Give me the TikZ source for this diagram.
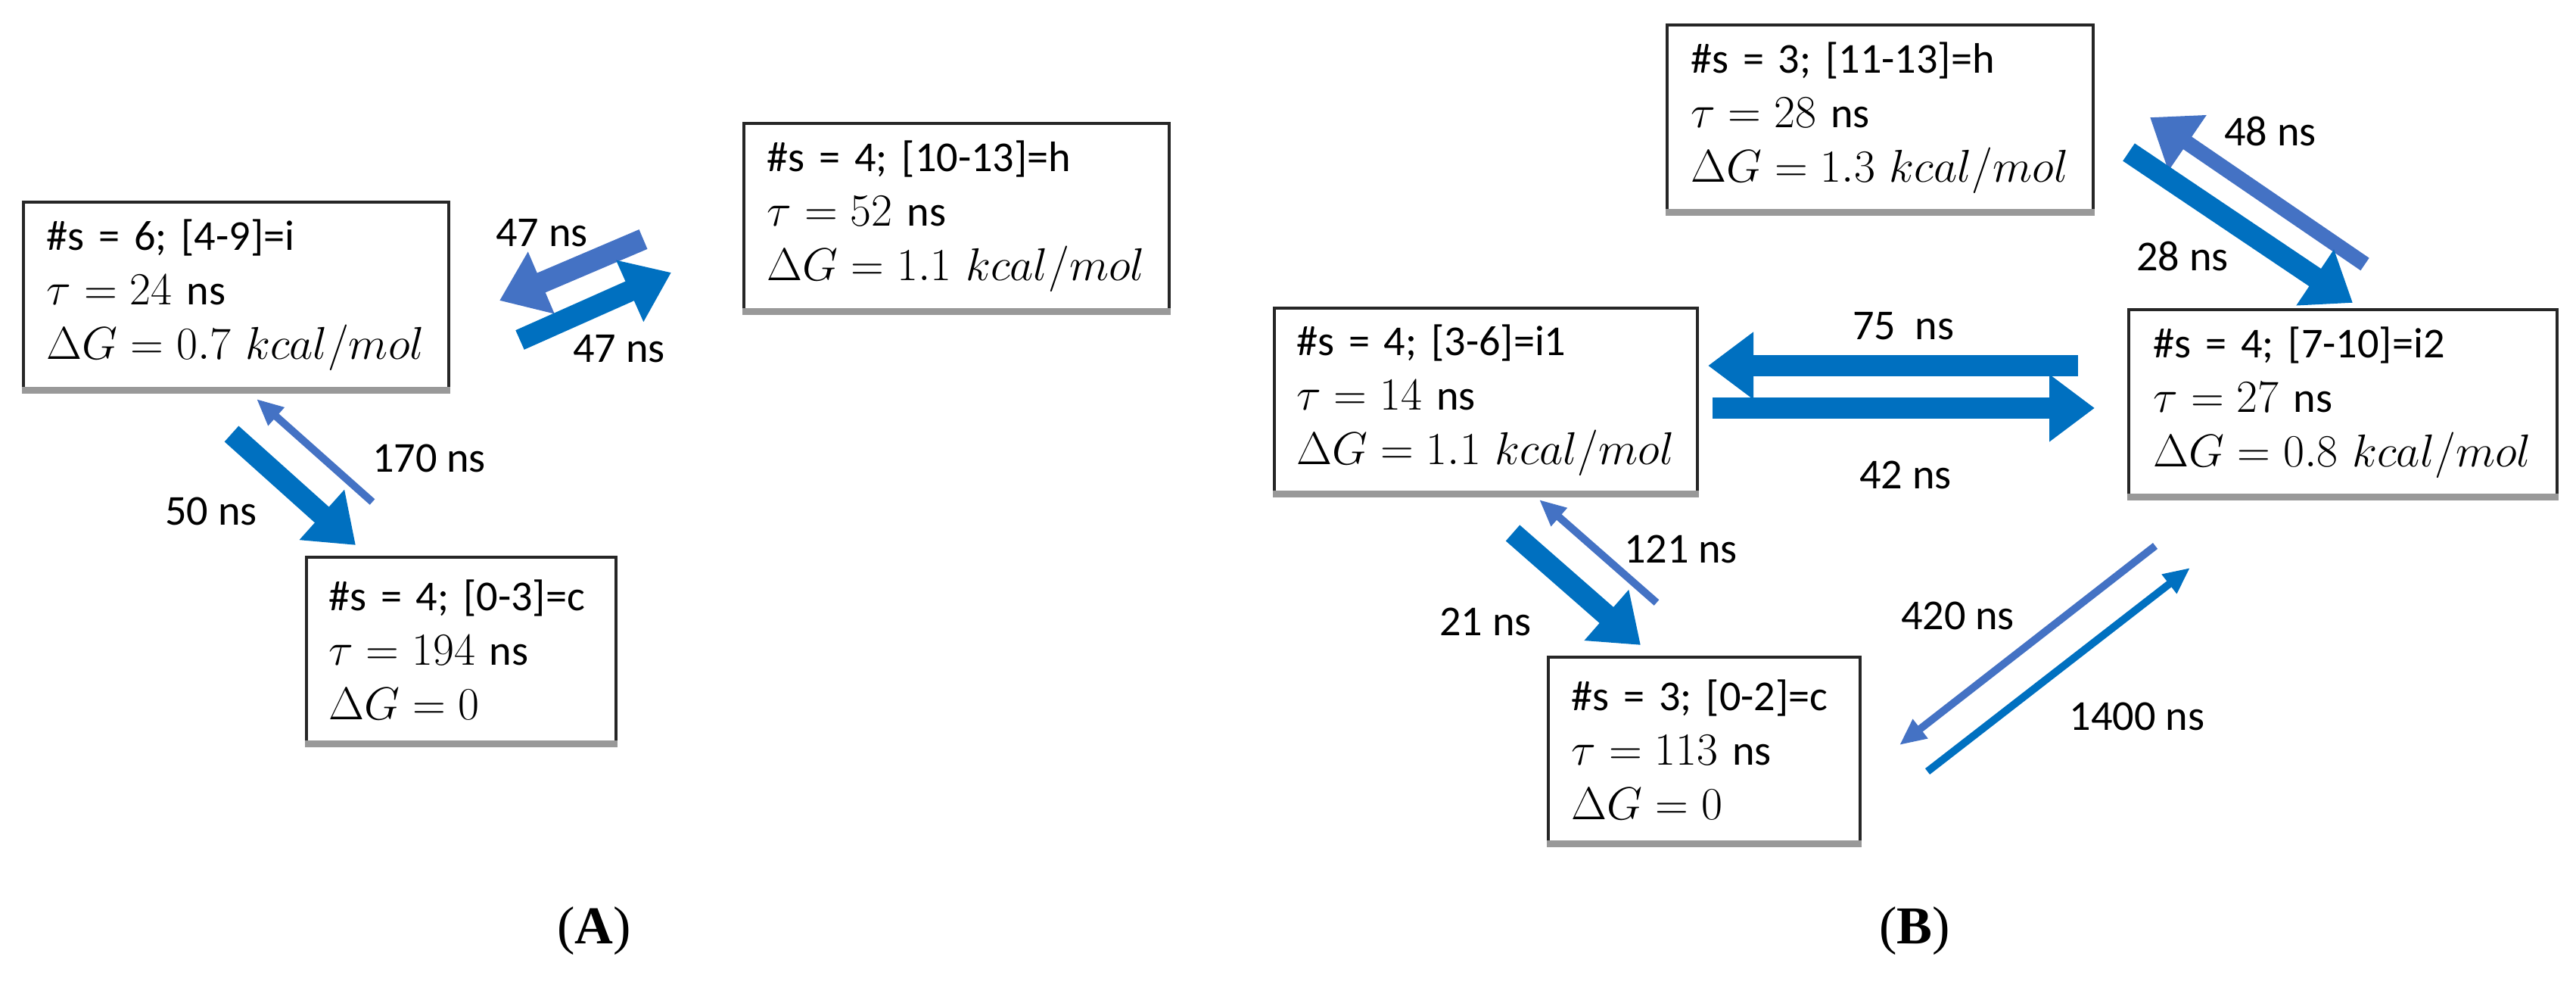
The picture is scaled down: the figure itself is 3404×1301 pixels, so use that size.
\documentclass[tikz,border=0pt]{standalone}
\usepackage{fontspec}
\setmainfont{Carlito}
\newfontfamily\capfont{Liberation Serif}
\usetikzlibrary{arrows.meta}
\definecolor{bA}{HTML}{0070C0}
\definecolor{bB}{HTML}{4472C4}
\begin{document}
\begin{tikzpicture}[x=0.01cm,y=-0.01cm,
  box/.style={draw=black!85, line width=1.2pt, fill=white, align=left, font=\fontsize{16}{20.5}\selectfont, inner sep=0pt},
  lab/.style={font=\fontsize{16}{18}\selectfont},
  fat/.style={bA, line width=0.28cm, -{Triangle[length=0.6cm,width=0.85cm]}},
  thin/.style={bB, line width=0.1cm, -{Triangle[length=0.35cm,width=0.3cm]}},
  shad/.style={gray!80, line width=2.5pt}]
\useasboundingbox (0,0) rectangle (3404,1301);
% boxes
\node[box, minimum width=5.62cm, minimum height=2.46cm, text width=5.0cm] (a1) at (312,390) {\#s = 6;\ [4-9]=i\\ $\tau = 24$ ns\\ $\Delta G = 0.7\ kcal/mol$};
\node[box, minimum width=5.62cm, minimum height=2.46cm, text width=5.0cm] (a2) at (1264,286) {\#s = 4;\ [10-13]=h\\ $\tau = 52$ ns\\ $\Delta G = 1.1\ kcal/mol$};
\node[box, minimum width=4.09cm, minimum height=2.44cm, text width=3.5cm] (a3) at (609.5,858) {\#s = 4;\ [0-3]=c\\ $\tau = 194$ ns\\ $\Delta G = 0$};
\node[box, minimum width=5.63cm, minimum height=2.45cm, text width=5.0cm] (b1) at (2484.5,155.5) {\#s = 3;\ [11-13]=h\\ $\tau = 28$ ns\\ $\Delta G = 1.3\ kcal/mol$};
\node[box, minimum width=5.59cm, minimum height=2.43cm, text width=5.0cm] (b2) at (1963.5,528.5) {\#s = 4;\ [3-6]=i1\\ $\tau = 14$ ns\\ $\Delta G = 1.1\ kcal/mol$};
\node[box, minimum width=5.66cm, minimum height=2.45cm, text width=5.0cm] (b3) at (3096,531.5) {\#s = 4;\ [7-10]=i2\\ $\tau = 27$ ns\\ $\Delta G = 0.8\ kcal/mol$};
\node[box, minimum width=4.12cm, minimum height=2.44cm, text width=3.5cm] (b4) at (2252,990) {\#s = 3;\ [0-2]=c\\ $\tau = 113$ ns\\ $\Delta G = 0$};
\foreach \n in {a1,a2,a3,b1,b2,b3,b4}{\draw[shad] (\n.south west) -- (\n.south east);}
% arrow end points
\coordinate (p1) at (850,316); \coordinate (q1) at (660,397);
\coordinate (p2) at (687,449); \coordinate (q2) at (887,360);
\coordinate (p3) at (492,663); \coordinate (q3) at (339,527);
\coordinate (p4) at (306,573); \coordinate (q4) at (470,720);
\coordinate (p5) at (3125,349); \coordinate (q5) at (2841,155);
\coordinate (p6) at (2813,201); \coordinate (q6) at (3109,400);
\coordinate (p7) at (2746,483); \coordinate (q7) at (2257,483);
\coordinate (p8) at (2263,539); \coordinate (q8) at (2768,539);
\coordinate (p9) at (2189,796); \coordinate (q9) at (2034,660);
\coordinate (p10) at (1999,704); \coordinate (q10) at (2168,852);
\coordinate (p11) at (2848,721); \coordinate (q11) at (2510,984);
\coordinate (p12) at (2547,1019); \coordinate (q12) at (2894,750);
\draw[fat, bB] (p1) -- (q1);
\draw[fat] (p2) -- (q2);
\draw[thin] (p3) -- (q3);
\draw[fat] (p4) -- (q4);
\draw[fat, bB, line width=0.2cm] (p5) -- (q5);
\draw[fat] (p6) -- (q6);
\draw[fat] (p7) -- (q7);
\draw[fat] (p8) -- (q8);
\draw[thin] (p9) -- (q9);
\draw[fat] (p10) -- (q10);
\draw[thin] (p11) -- (q11);
\draw[thin, bA] (p12) -- (q12);
% labels
\node[lab] (l1) at (716,308) {47 ns};
\node[lab] (l2) at (818,461) {47 ns};
\node[lab] (l3) at (567,605) {170 ns};
\node[lab] (l4) at (279,675) {50 ns};
\node[lab] (l5) at (3000,173) {48 ns};
\node[lab] (l6) at (2884,338) {28 ns};
\node[lab] (l7) at (2515,431) {75\ \ ns};
\node[lab] (l8) at (2518,627) {42 ns};
\node[lab] (l9) at (2221,725) {121 ns};
\node[lab] (l10) at (1963,821) {21 ns};
\node[lab] (l11) at (2587,813) {420 ns};
\node[lab] (l12) at (2824,946) {1400 ns};
\node[font=\capfont\fontsize{20}{24}\selectfont] (ca) at (785,1230) {(\textbf{A})};
\node[font=\capfont\fontsize{20}{24}\selectfont] (cb) at (2530,1230) {(\textbf{B})};
\end{tikzpicture}
\end{document}
